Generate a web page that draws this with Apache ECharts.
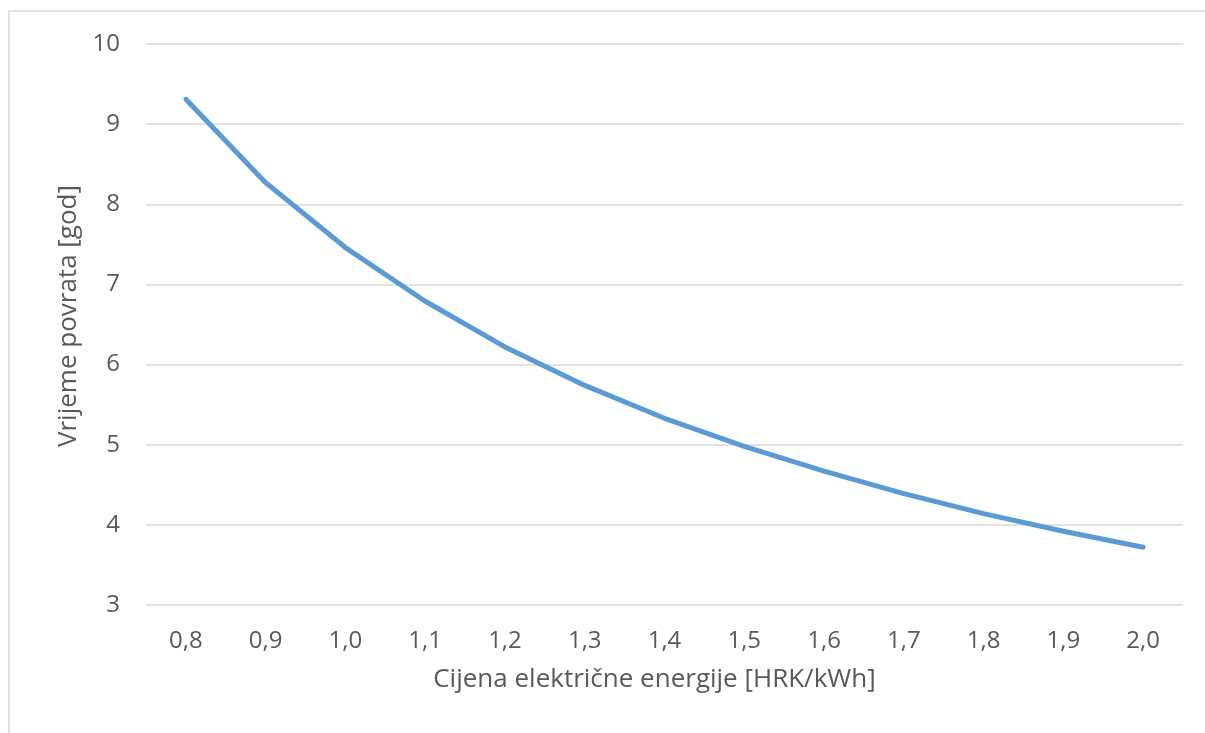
<!DOCTYPE html>
<html>
<head>
<meta charset="utf-8">
<script src="https://cdn.jsdelivr.net/npm/echarts@6/dist/echarts.min.js"></script>
<style>
html,body{margin:0;padding:0;background:#fff;}
#chart{width:1205px;height:733px;}
</style>
</head>
<body>
<div id="chart"></div>
<script>
const categories = ['0,8','0,9','1,0','1,1','1,2','1,3','1,4','1,5','1,6','1,7','1,8','1,9','2,0'];
const paybackYears = [9.31, 8.27, 7.46, 6.79, 6.22, 5.74, 5.33, 4.98, 4.67, 4.39, 4.14, 3.92, 3.72];
const yTitle = 'Vrijeme povrata [god]';
const xTitle = 'Cijena električne energije [HRK/kWh]';

const chart = echarts.init(document.getElementById('chart'), null, {renderer: 'canvas'});
const font = '"Open Sans", "Noto Sans", sans-serif';
chart.setOption({
  animation: false,
  backgroundColor: '#fff',
  graphic: [{
    type: 'rect',
    shape: {x: 9, y: 11, width: 1300, height: 900},
    style: {fill: 'none', stroke: '#D9D9D9', lineWidth: 1.5},
    silent: true
  }],
  grid: {left: 146, right: 22, top: 44, bottom: 128, containLabel: false},
  xAxis: {
    type: 'category',
    data: categories,
    boundaryGap: true,
    name: xTitle,
    nameLocation: 'middle',
    nameGap: 62,
    nameTextStyle: {fontFamily: font, fontSize: 26, color: '#595959', padding: [0, 20, 0, 0]},
    axisLine: {show: false},
    axisTick: {show: false},
    axisLabel: {fontFamily: font, fontSize: 24, color: '#595959', margin: 24}
  },
  yAxis: {
    type: 'value',
    min: 3, max: 10, interval: 1,
    name: yTitle,
    nameLocation: 'middle',
    nameGap: 64,
    nameTextStyle: {fontFamily: font, fontSize: 26, color: '#595959', padding: [0, 0, 0, 17]},
    axisLine: {show: false},
    axisTick: {show: false},
    axisLabel: {fontFamily: font, fontSize: 24, color: '#595959', margin: 26},
    splitLine: {lineStyle: {color: '#D9D9D9', width: 1.5}}
  },
  series: [{
    type: 'line',
    data: paybackYears,
    showSymbol: false,
    smooth: false,
    lineStyle: {color: '#5B9BD5', width: 5, cap: 'round', join: 'round'},
    itemStyle: {color: '#5B9BD5'}
  }]
});
</script>
</body>
</html>
